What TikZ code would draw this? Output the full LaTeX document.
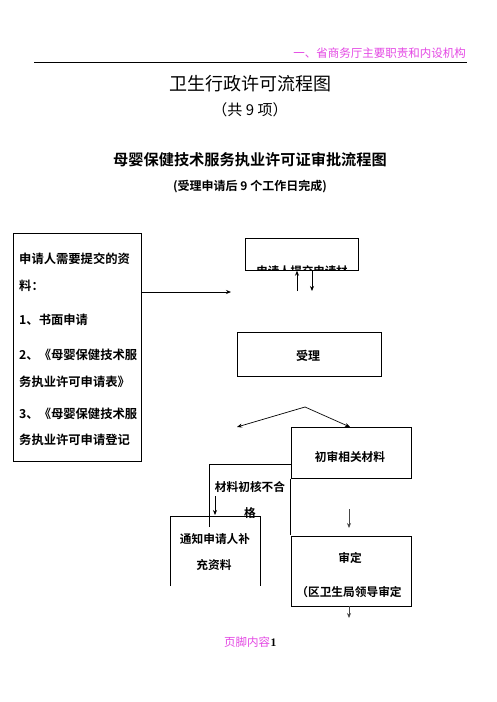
\documentclass[tikz,border=0pt]{standalone}
\usepackage{fontspec}
\setmainfont{Noto Sans CJK SC}[BoldFont={Noto Sans CJK SC Bold}]
\newfontfamily\cjk{Noto Sans CJK SC}[BoldFont={Noto Sans CJK SC Bold}]
\newfontfamily\latinb{Liberation Serif}
\usetikzlibrary{arrows.meta}
\definecolor{pinkt}{RGB}{228,72,228}
\definecolor{grayar}{RGB}{70,70,70}
\begin{document}
\begin{tikzpicture}[x=1pt,y=-1pt,
  boxs/.style={draw, line width=0.7pt, inner sep=0pt, anchor=north west},
  lbl/.style={inner sep=0pt, font=\cjk\bfseries\fontsize{12}{14}\selectfont},
  lt/.style={inner sep=0pt, anchor=west, font=\cjk\bfseries\fontsize{12.3}{14}\selectfont},
  arr/.style={line width=0.7pt, -{Stealth[length=5pt,width=4pt]}},
  garr/.style={arr, draw=grayar, line width=0.9pt},
  ln/.style={line width=0.7pt}]
\useasboundingbox (0,0) rectangle (496,702);
\fill[white] (0,0) rectangle (496,702);
% header
\node[inner sep=0pt, anchor=east, text=pinkt, font=\cjk\fontsize{11.5}{13}\selectfont] (hdr) at (466,53) {一、省商务厅主要职责和内设机构};
\coordinate (hl1) at (34,62); \coordinate (hl2) at (467,62);
\draw[line width=0.8pt] (hl1) -- (hl2);
\node[inner sep=0pt, font=\cjk\fontsize{18}{20}\selectfont] (t1) at (250,84) {卫生行政许可流程图};
\node[inner sep=0pt, font=\cjk\fontsize{15}{17}\selectfont] (t2) at (250,110) {（共 9 项）};
\node[inner sep=0pt, font=\cjk\bfseries\fontsize{15.2}{17}\selectfont] (t3) at (250,160) {母婴保健技术服务执业许可证审批流程图};
\node[inner sep=0pt, font=\cjk\bfseries\fontsize{12}{14}\selectfont] (t4) at (250,187) {(受理申请后 9 个工作日完成)};
% left box
\node[boxs, minimum width=128pt, minimum height=228pt] (left) at (12.7,233) {};
\node[lt] (l1) at (19,259) {申请人需要提交的资};
\node[lt] (l2) at (19,286) {料：};
\node[lt] (l3) at (19,320) {1、书面申请};
\node[lt] (l4) at (19,355) {2、《母婴保健技术服};
\node[lt] (l5) at (19,382) {务执业许可申请表》};
\node[lt] (l6) at (19,414) {3、《母婴保健技术服};
\node[lt] (l7) at (19,440) {务执业许可申请登记};
\coordinate (a1e) at (231,292);
\draw[arr] (left.east |- a1e) -- (a1e);
% top box
\node[boxs, minimum width=113pt, minimum height=32pt] (top) at (245,238) {};
\begin{scope}
\clip (245,238) rectangle (358,270);
\node[inner sep=0pt, font=\cjk\bfseries\fontsize{11.4}{13}\selectfont] (toptxt) at (302,271.5) {申请人提交申请材};
\end{scope}
\coordinate (up0) at (297,291);
\coordinate (dn1) at (312,291);
\draw[arr] (up0) -- (up0 |- top.south);
\draw[arr] (dn1 |- top.south) -- (dn1);
% accept box
\node[boxs, minimum width=144pt, minimum height=44pt] (acc) at (237,332) {};
\node[lbl] (acctxt) at (308,356) {受理};
\coordinate (apex) at (305,407);
\coordinate (lend) at (237,427);
\coordinate (rend) at (350,427);
\draw[arr] (apex) -- (lend);
\draw[arr] (apex) -- (rend);
% initial review box
\node[boxs, minimum width=120pt, minimum height=51pt] (init) at (290.7,427) {};
\node[lbl, font=\cjk\bfseries\fontsize{11.7}{14}\selectfont] (inittxt) at (350,457) {初审相关材料};
% fail frame
\coordinate (f1) at (209,527); \coordinate (f2) at (209,464);
\coordinate (f3) at (290.7,464); \coordinate (f4) at (290.7,535);
\draw[ln] (f1) -- (f2) -- (f3);
\draw[ln] (init.south west) -- (f4);
\node[lbl, font=\cjk\bfseries\fontsize{11.7}{14}\selectfont] (fail1) at (250,487) {材料初核不合};
\node[lbl, font=\cjk\bfseries\fontsize{11.7}{14}\selectfont] (fail2) at (250,513) {格};
\coordinate (fa0) at (215,496); \coordinate (fa1) at (215,515);
\draw[arr] (fa0) -- (fa1);
% notify frame
\coordinate (n1) at (170.7,586); \coordinate (n2) at (170.7,516.7);
\coordinate (n3) at (260,516.7); \coordinate (n4) at (260,586);
\draw[ln] (n1) -- (n2) -- (n3) -- (n4);
\node[lbl, font=\cjk\bfseries\fontsize{11.7}{14}\selectfont] (nt1) at (215,539) {通知申请人补};
\node[lbl, font=\cjk\bfseries\fontsize{11.7}{14}\selectfont] (nt2) at (214,565) {充资料};
% decide box
\node[boxs, minimum width=120pt, minimum height=70pt] (dec) at (290.7,535.7) {};
\node[lbl, font=\cjk\bfseries\fontsize{11.7}{14}\selectfont] (dectxt) at (350,558) {审定};
\node[lbl, font=\cjk\bfseries\fontsize{11.7}{14}\selectfont] (dectxt2) at (349,592) {（区卫生局领导审定};
\coordinate (da0) at (349,509); \coordinate (da1) at (349,528);
\draw[garr] (da0) -- (da1);
\coordinate (db1) at (349,618);
\draw[garr] (dec.south -| db1) -- (db1);
% footer
\node[inner sep=0pt, anchor=base west, text=pinkt, font=\cjk\fontsize{11.5}{13}\selectfont] (ft) at (224,646) {页脚内容};
\node[inner sep=0pt, anchor=base west, font=\latinb\bfseries\fontsize{11.5}{13}\selectfont] (ft1) at (ft.base east) {1};
\end{tikzpicture}
\end{document}
